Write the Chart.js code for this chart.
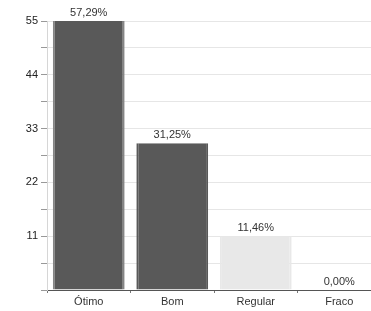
<!DOCTYPE html>
<html>
<head>
<meta charset="utf-8">
<script src="https://cdn.jsdelivr.net/npm/chart.js@4"></script>
<style>
  html, body { margin: 0; padding: 0; background: #fff; overflow: hidden; }
  #wrap { width: 381px; height: 311px; }
</style>
</head>
<body>
<div id="wrap"><canvas id="chart" width="381" height="311"></canvas></div>
<script>
const categories = ['Ótimo', 'Bom', 'Regular', 'Fraco'];
const counts = [55, 30, 11, 0];
const pctLabels = ['57,29%', '31,25%', '11,46%', '0,00%'];
const barColors = ['#595959', '#595959', '#e8e8e8', '#e8e8e8'];
const edgeColors = ['#858585', '#595959', '#e8e8e8', '#e8e8e8'];
const yMax = 55;
const yStep = 5.5;

// draws the percent text above each bar
const valueLabels = {
    id: 'valueLabels',
    afterDatasetsDraw(chart) {
        const ctx = chart.ctx;
        const meta = chart.getDatasetMeta(0);
        ctx.save();
        ctx.font = '11px "Liberation Sans", Arial, sans-serif';
        ctx.fillStyle = '#333';
        ctx.textAlign = 'center';
        ctx.textBaseline = 'bottom';
        meta.data.forEach((bar, i) => {
            ctx.fillText(pctLabels[i], bar.x, bar.y - 3);
        });
        ctx.restore();
    }
};

new Chart(document.getElementById('chart'), {
    type: 'bar',
    data: {
        labels: categories,
        datasets: [{
            data: counts,
            backgroundColor: barColors,
            borderColor: edgeColors,
            borderWidth: { left: 2, right: 2, top: 0, bottom: 0 },
            borderSkipped: false,
            barPercentage: 0.86,
            categoryPercentage: 1
        }]
    },
    options: {
        responsive: false,
        animation: false,
        layout: { padding: { top: 21, right: 0, left: 0, bottom: 0 } },
        plugins: {
            legend: { display: false },
            tooltip: { enabled: false }
        },
        scales: {
            x: {
                grid: {
                    offset: true,
                    drawOnChartArea: false,
                    tickLength: 3,
                    tickColor: '#777'
                },
                border: { color: '#555', width: 1 },
                ticks: {
                    color: '#333',
                    padding: 2,
                    font: { family: '"Liberation Sans", Arial, sans-serif', size: 11 }
                },
                afterFit(scale) { scale.height = 21; }
            },
            y: {
                min: 0,
                max: yMax,
                grid: {
                    color: '#e6e6e6',
                    tickColor: '#999',
                    tickLength: 6
                },
                border: { color: '#d6d6d6', width: 1 },
                ticks: {
                    stepSize: yStep,
                    color: '#222',
                    padding: 3,
                    font: { family: '"Liberation Sans", Arial, sans-serif', size: 11 },
                    callback(v) {
                        const n = Math.round(v * 10) / 10;
                        return (n % 11 === 0 && n !== 0) ? String(n) : '';
                    }
                },
                afterFit(scale) { scale.width = 47; }
            }
        }
    },
    plugins: [valueLabels]
});
</script>
</body>
</html>
